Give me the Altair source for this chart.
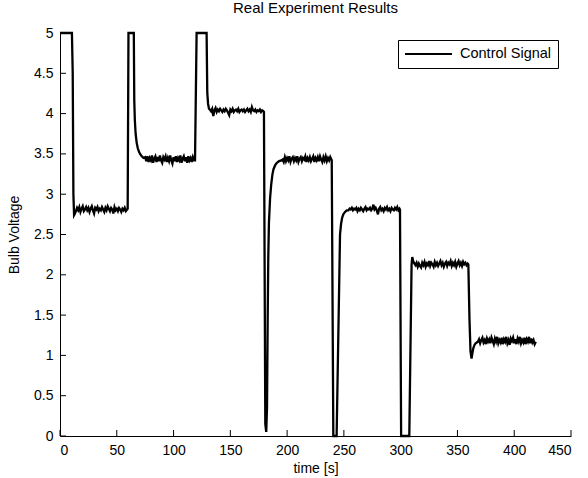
import altair as alt
import pandas as pd

# ---- data ----
# transition / step points (time [s], voltage)
step1_t = [0, 10.5, 11.2, 11.8, 12.4, 13.2]
step1_v = [5.0, 5.0, 4.5, 3.0, 2.74, 2.76]

flat1_start = 14
flat1_v = [2.79, 2.83, 2.80, 2.84, 2.78, 2.82, 2.85, 2.79, 2.81, 2.84,
           2.80, 2.83, 2.78, 2.82, 2.85, 2.80, 2.76, 2.83, 2.81, 2.84,
           2.79, 2.82, 2.80, 2.84, 2.81, 2.78, 2.83, 2.80, 2.85, 2.82,
           2.79, 2.83, 2.81, 2.76, 2.84, 2.80, 2.82, 2.79, 2.83, 2.81,
           2.78, 2.82, 2.80, 2.83, 2.79, 2.81]

step2_t = [59.6, 60.3, 65.0, 65.4, 65.9, 66.6, 67.5, 68.5, 69.5, 70.5, 72.0, 73.5]
step2_v = [2.82, 5.0, 5.0, 4.17, 3.92, 3.75, 3.64, 3.57, 3.53, 3.50, 3.47, 3.45]

flat2_start = 75
flat2_v = [3.46, 3.41, 3.47, 3.40, 3.45, 3.42, 3.48, 3.39, 3.44, 3.47,
           3.40, 3.46, 3.41, 3.48, 3.42, 3.39, 3.46, 3.43, 3.47, 3.40,
           3.45, 3.41, 3.48, 3.42, 3.38, 3.46, 3.41, 3.47, 3.40, 3.45,
           3.42, 3.48, 3.39, 3.44, 3.47, 3.41, 3.46, 3.39, 3.47, 3.42,
           3.45, 3.40, 3.46, 3.42]

step3_t = [118.9, 120.3, 129.1, 129.7, 130.4, 131.2]
step3_v = [3.42, 5.0, 5.0, 4.26, 4.12, 4.06]

flat3_start = 132
flat3_v = [4.05, 4.03, 4.06, 3.97, 4.04, 4.07, 4.02, 4.05, 4.03, 4.06,
           4.04, 4.02, 4.05, 4.03, 4.06, 4.04, 4.01, 3.98, 4.05, 4.03,
           4.06, 4.02, 4.04, 4.05, 4.03, 4.06, 4.02, 4.04, 4.05, 4.03,
           4.05, 4.02, 4.04, 4.06, 4.03, 4.05, 4.02, 4.08, 4.04, 4.03,
           4.05, 4.02, 4.04, 4.03, 4.05, 4.02, 4.04, 4.03]

step4_t = [179.6, 180.8, 181.6, 182.3, 182.9, 183.4, 184.0, 185.0, 186.0,
           187.0, 188.0, 189.5, 191.0, 193.0, 195.0]
step4_v = [4.02, 0.15, 0.05, 0.35, 1.45, 2.20, 2.65, 2.95, 3.12,
           3.24, 3.31, 3.36, 3.39, 3.41, 3.42]

flat4_start = 196
flat4_v = [3.43, 3.40, 3.46, 3.41, 3.45, 3.42, 3.47, 3.40, 3.44, 3.46,
           3.41, 3.45, 3.42, 3.47, 3.40, 3.44, 3.46, 3.41, 3.45, 3.43,
           3.47, 3.40, 3.45, 3.42, 3.46, 3.41, 3.44, 3.47, 3.40, 3.45,
           3.42, 3.46, 3.41, 3.47, 3.43, 3.40, 3.46, 3.42, 3.47, 3.41,
           3.45, 3.42, 3.46, 3.43]

step5_t = [239.3, 240.7, 243.6, 246.6, 247.5, 248.5, 249.5, 251.0, 252.5]
step5_v = [3.42, 0.0, 0.0, 2.50, 2.63, 2.71, 2.75, 2.78, 2.80]

flat5_start = 254
flat5_v = [2.80, 2.82, 2.81, 2.83, 2.80, 2.82, 2.81, 2.83, 2.79, 2.82,
           2.80, 2.83, 2.81, 2.79, 2.82, 2.84, 2.80, 2.82, 2.81, 2.83,
           2.80, 2.82, 2.87, 2.81, 2.83, 2.80, 2.75, 2.82, 2.84, 2.80,
           2.82, 2.79, 2.83, 2.81, 2.84, 2.80, 2.82, 2.79, 2.83, 2.81,
           2.80, 2.83, 2.81, 2.84, 2.80, 2.82]

step6_t = [299.4, 300.4, 307.6, 309.6, 310.2, 311.0, 312.0]
step6_v = [2.81, 0.0, 0.0, 2.12, 2.22, 2.17, 2.14]

flat6_start = 313
flat6_v = [2.12, 2.15, 2.10, 2.14, 2.11, 2.09, 2.15, 2.12, 2.16, 2.10,
           2.14, 2.12, 2.17, 2.11, 2.15, 2.13, 2.10, 2.16, 2.12, 2.15,
           2.11, 2.14, 2.17, 2.12, 2.15, 2.10, 2.14, 2.16, 2.11, 2.15,
           2.13, 2.17, 2.11, 2.15, 2.12, 2.16, 2.10, 2.14, 2.17, 2.12,
           2.15, 2.11, 2.16, 2.13, 2.15, 2.12, 2.14]

step7_t = [359.6, 360.6, 361.5, 362.4, 363.2, 364.0, 365.0, 366.0, 367.0]
step7_v = [2.13, 1.45, 1.05, 0.96, 1.03, 1.09, 1.13, 1.15, 1.16]

flat7_start = 368
flat7_v = [1.17, 1.20, 1.15, 1.19, 1.22, 1.16, 1.19, 1.14, 1.21, 1.17,
           1.20, 1.15, 1.22, 1.18, 1.14, 1.21, 1.17, 1.23, 1.15, 1.19,
           1.16, 1.22, 1.14, 1.20, 1.17, 1.23, 1.15, 1.19, 1.13, 1.21,
           1.18, 1.22, 1.15, 1.20, 1.14, 1.21, 1.17, 1.23, 1.15, 1.19,
           1.16, 1.22, 1.14, 1.20, 1.17, 1.23, 1.15, 1.21, 1.16, 1.19,
           1.14, 1.17]

x_ticks = [0, 50, 100, 150, 200, 250, 300, 350, 400, 450]
y_ticks = [0, 0.5, 1, 1.5, 2, 2.5, 3, 3.5, 4, 4.5, 5]

# ---- assemble ----
t_all, v_all = [], []
segments = [
    (step1_t, step1_v), (flat1_start, flat1_v),
    (step2_t, step2_v), (flat2_start, flat2_v),
    (step3_t, step3_v), (flat3_start, flat3_v),
    (step4_t, step4_v), (flat4_start, flat4_v),
    (step5_t, step5_v), (flat5_start, flat5_v),
    (step6_t, step6_v), (flat6_start, flat6_v),
    (step7_t, step7_v), (flat7_start, flat7_v),
]
for a, b in segments:
    if isinstance(a, list):
        t_all += a
        v_all += b
    else:  # samples taken once per second
        t_all += [a + i for i in range(len(b))]
        v_all += b

df = pd.DataFrame({"t": t_all, "v": v_all, "i": range(len(t_all)),
                   "series": "Control Signal"})

FONT = "Liberation Sans"
W, H = 511, 403

xs = alt.Scale(domain=[0, 450], nice=False, zero=False)
ys = alt.Scale(domain=[0, 5], nice=False, zero=False)

line = alt.Chart(df).mark_line(strokeWidth=2.3, clip=False).encode(
    x=alt.X("t:Q", scale=xs, title="time [s]",
            axis=alt.Axis(values=x_ticks, tickSize=0, labelPadding=7, grid=False,
                          titlePadding=4, format="d")),
    y=alt.Y("v:Q", scale=ys, title="Bulb Voltage",
            axis=alt.Axis(values=y_ticks, tickSize=0, labelPadding=7, grid=False,
                          titlePadding=12, format="~g")),
    order="i:Q",
    color=alt.Color("series:N", scale=alt.Scale(range=["black"]),
                    legend=alt.Legend(orient="none", legendX=338, legendY=7,
                                      title=None, strokeColor="black", fillColor="white",
                                      padding=6, symbolType="stroke", symbolSize=2209,
                                      symbolStrokeWidth=2, labelFont=FONT,
                                      labelFontSize=14.5, labelColor="black",
                                      labelOffset=7, clipHeight=16)),
)

xt = alt.Chart(pd.DataFrame({"xt": x_ticks})).mark_rule(color="black", strokeWidth=1).encode(
    x=alt.X("xt:Q", scale=xs), y=alt.value(H), y2=alt.value(H - 6))
yt = alt.Chart(pd.DataFrame({"yt": y_ticks})).mark_rule(color="black", strokeWidth=1).encode(
    y=alt.Y("yt:Q", scale=ys), x=alt.value(0), x2=alt.value(6))

chart = alt.layer(line, xt, yt).properties(
    width=W, height=H,
    title=alt.TitleParams("Real Experiment Results", font=FONT, fontSize=15,
                          fontWeight="normal", color="black", anchor="middle", offset=10),
    autosize=alt.AutoSizeParams(type="none"),
    padding={"left": 60, "top": 33, "right": 17, "bottom": 42},
).configure_view(stroke=None).configure_axis(
    domainColor="black", domainWidth=1, labelFont=FONT, labelFontSize=14,
    labelColor="black", titleFont=FONT, titleFontSize=14, titleFontWeight="normal",
    titleColor="black",
)

chart.save("out.html", embed_options={"renderer": "svg", "actions": False})
